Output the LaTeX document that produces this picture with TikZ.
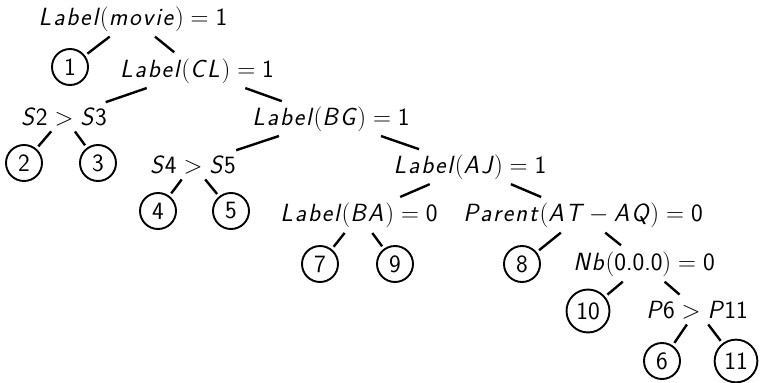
\documentclass[tikz,border=0pt]{standalone}
\makeatletter
\def\vv#1{\mbox{\sffamily\itshape\vv@#1\@nil}}
\def\vv@#1{\ifx#1\@nil\else#1\kern0.075em\expandafter\vv@\fi}
\makeatother
\newcommand\dd[1]{\mbox{\sffamily #1}}
\tikzset{
  lbl/.style={anchor=base, inner xsep=0pt, inner ysep=4pt, font=\fontsize{24.88}{30}\selectfont},
  leaf/.style={circle, draw, line width=1.9pt, inner sep=5pt, minimum size=36pt, font=\fontsize{24.88}{30}\selectfont\sffamily},
  link/.style={line width=2.4pt, shorten <=2pt, shorten >=3pt}
}
\begin{document}
\begin{tikzpicture}[x=1pt,y=-1pt]
\useasboundingbox (0,0) rectangle (761,383);
\node[lbl] (r) at (133,25) {$\vv{Label}(\vv{movie}) = \dd{1}$};
\node[leaf] (n1) at (70,67) {1};
\node[lbl] (cl) at (197,77) {$\vv{Label}(\vv{CL}) = \dd{1}$};
\node[lbl] (s23) at (64,125) {$\vv{S}\dd{2} > \vv{S}\dd{3}$};
\node[lbl] (bg) at (331,125) {$\vv{Label}(\vv{BG}) = \dd{1}$};
\node[leaf] (n2) at (24,163) {2};
\node[leaf] (n3) at (98,163) {3};
\node[lbl] (s45) at (193,173) {$\vv{S}\dd{4} > \vv{S}\dd{5}$};
\node[lbl] (aj) at (470,173) {$\vv{Label}(\vv{AJ}) = \dd{1}$};
\node[leaf] (n4) at (158,211) {4};
\node[leaf] (n5) at (231,211) {5};
\node[lbl] (ba) at (359,221) {$\vv{Label}(\vv{BA}) = \dd{0}$};
\node[lbl] (pa) at (583,221) {$\vv{Parent}(\vv{AT} - \vv{AQ}) = \dd{0}$};
\node[leaf] (n7) at (320,264) {7};
\node[leaf] (n9) at (395,264) {9};
\node[leaf] (n8) at (522,264) {8};
\node[lbl] (nb) at (644,270) {$\vv{Nb}(\dd{0.0.0}) = \dd{0}$};
\node[leaf] (n10) at (588,311) {10};
\node[lbl] (p6) at (697,318) {$\vv{P}\dd{6} > \vv{P}\dd{11}$};
\node[leaf] (n6) at (662,361) {6};
\node[leaf] (n11) at (736,361) {11};
\foreach \a/\b in {r/n1, r/cl, cl/s23, cl/bg, s23/n2, s23/n3, bg/s45, bg/aj,
  s45/n4, s45/n5, aj/ba, aj/pa, ba/n7, ba/n9, pa/n8, pa/nb, nb/n10, nb/p6, p6/n6, p6/n11}
  \draw[link] (\a) -- (\b);
\end{tikzpicture}
\end{document}
